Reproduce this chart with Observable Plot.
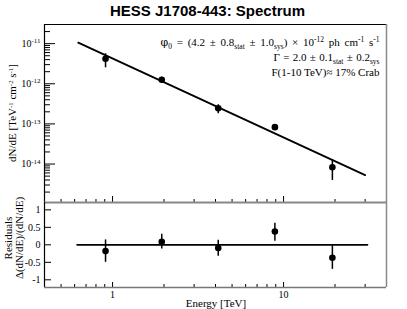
<!DOCTYPE html>
<html><head><meta charset="utf-8">
<script src="https://cdn.jsdelivr.net/npm/d3@7"></script>
<script src="https://cdn.jsdelivr.net/npm/@observablehq/plot@0.6"></script>
<style>
html,body{margin:0;padding:0;background:#fff;}
#wrap{position:relative;width:407px;height:309px;overflow:hidden;background:#fff;}
.serif{font-family:"Liberation Serif","Times New Roman",serif;color:#000;}
sub,sup{font-size:0.62em;line-height:0;position:relative;vertical-align:baseline;}
sub{top:0.3em;} sup{top:-0.5em;}
#title{position:absolute;left:4px;width:407px;top:2px;text-align:center;font:bold 15px "Liberation Sans",Arial,sans-serif;color:#000;}
.rot{position:absolute;transform:translate(-50%,-50%) rotate(-90deg);white-space:nowrap;font-size:11px;line-height:12px;}
#xlabel{position:absolute;left:216px;top:303px;transform:translate(-50%,-50%);font-size:11px;white-space:nowrap;}
#wrap svg{position:absolute;left:0;}
</style></head>
<body>
<div id="wrap">
  <div id="title">HESS J1708-443: Spectrum</div>
</div>
<script>
// ---- data ----
const energy   = [0.91, 1.94, 4.15, 8.9, 19.3];          // TeV
const flux     = [4.2e-12, 1.26e-12, 2.45e-13, 8.3e-14, 8.3e-15];
const fluxLo   = [2.5e-12, 1.04e-12, 1.78e-13, 7.4e-14, 3.9e-15];
const fluxHi   = [5.6e-12, 1.46e-12, 3.0e-13, 9.2e-14, 1.27e-14];
const resid    = [-0.18, 0.09, -0.09, 0.38, -0.37];
const residLo  = [-0.5, -0.12, -0.33, 0.10, -0.70];
const residHi  = [0.14, 0.30, 0.13, 0.62, -0.02];
const fitE     = [0.63, 30];
const fitFlux  = [1.06e-11, 5.3e-15];
const zeroE    = [0.62, 31];
const zeroRes  = [0, 0];
// axes
const xDomain  = [0.4, 40];
const yDomain  = [1.1e-15, 3.0e-11];
const resDomain = [-1.22, 1.21];
const xMajor   = [1, 10];
const xMinor   = [0.5, 0.6, 0.7, 0.8, 0.9, 2, 3, 4, 5, 6, 7, 8, 9, 20, 30];
const yMajor   = [1e-14, 1e-13, 1e-12, 1e-11];
const yDecades = [1e-15, 1e-14, 1e-13, 1e-12, 1e-11];
const mantissas = [2, 3, 4, 5, 6, 7, 8, 9];
const resMajor = [-1, -0.5, 0, 0.5, 1];
// legend lines: [text, kind] with kind "n" normal, "b" subscript, "p" superscript
const legendLines = [
  [["φ","n"],["0","b"],[" = (4.2 ± 0.8","n"],["stat","b"],[" ± 1.0","n"],["sys","b"],[") × 10","n"],["-12","p"],[" ph cm","n"],["-1","p"],[" s","n"],["-1","p"]],
  [["Γ = 2.0 ± 0.1","n"],["stat","b"],[" ± 0.2","n"],["sys","b"]],
  [["F(1-10 TeV)≈ 17% Crab","n"]]
];
const legendWordSpacing = [2.0, 0.6, 0];

const points = energy.map((e, i) => ({e, f: flux[i], lo: fluxLo[i], hi: fluxHi[i]}));
const resPts = energy.map((e, i) => ({e, r: resid[i], lo: residLo[i], hi: residHi[i]}));
const fit = fitE.map((e, i) => ({e, f: fitFlux[i]}));
const zero = zeroE.map((e, i) => ({e, r: zeroRes[i]}));
const yMinor = yDecades.flatMap(d => mantissas.map(m => m * d)).filter(v => v > yDomain[0] && v < yDomain[1]);

const W = 407, mL = 44, mR = 21;
const pw = W - mL - mR;
const H1 = 204, mT1 = 24, mB1 = 2, ph1 = H1 - mT1 - mB1;
const H2 = 109, mT2 = 2, mB2 = 22, ph2 = H2 - mT2 - mB2;
const font = {background: "transparent", fontFamily: "Liberation Serif, Times New Roman, serif", fontSize: "10px", color: "#000", overflow: "visible"};

const upper = Plot.plot({
  width: W, height: H1, marginTop: mT1, marginBottom: mB1, marginLeft: mL, marginRight: mR,
  style: font,
  x: {type: "log", domain: xDomain, axis: null},
  y: {type: "log", domain: yDomain, ticks: yMajor, tickSize: 0, tickPadding: 4,
      tickFormat: d => "10^" + Math.round(Math.log10(d)), label: null},
  marks: [
    Plot.tickY(yMinor, {y: d => d, insetRight: pw - 6, stroke: "#000"}),
    Plot.tickY(yMajor, {y: d => d, insetRight: pw - 11, stroke: "#000"}),
    Plot.tickX(xMinor, {x: d => d, insetTop: ph1 - 3, stroke: "#000"}),
    Plot.tickX(xMajor, {x: d => d, insetTop: ph1 - 6, stroke: "#000"}),
    Plot.ruleY([yDomain[1]], {stroke: "#000", strokeWidth: 1.2}),
    Plot.ruleX([xDomain[0]], {stroke: "#000", strokeWidth: 1.2}),
    Plot.ruleX([xDomain[1]], {stroke: "#888", strokeWidth: 1.5}),
    Plot.ruleY([yDomain[0]], {stroke: "#888", strokeWidth: 2}),
    Plot.line(fit, {x: "e", y: "f", stroke: "#000", strokeWidth: 1.8}),
    Plot.ruleX(points, {x: "e", y1: "lo", y2: "hi", stroke: "#000", strokeWidth: 1.5}),
    Plot.dot(points, {x: "e", y: "f", r: 3.3, fill: "#000", stroke: null}),
    Plot.text(legendLines, {text: (d, i) => "L" + i, frameAnchor: "top-right", dx: -7,
      fill: "#000", fontSize: 11, textAnchor: "end"})
  ]
});
upper.style.top = "0px";

const lower = Plot.plot({
  width: W, height: H2, marginTop: mT2, marginBottom: mB2, marginLeft: mL, marginRight: mR,
  style: font,
  x: {type: "log", domain: xDomain, ticks: xMajor, tickSize: 0, tickPadding: 3, tickFormat: d => String(d), label: null},
  y: {domain: resDomain, ticks: resMajor, tickSize: 0, tickPadding: 4, tickFormat: d => String(d), label: null},
  marks: [
    Plot.tickY(resMajor, {y: d => d, insetRight: pw - 7, stroke: "#000"}),
    Plot.tickX(xMinor, {x: d => d, insetTop: ph2 - 3, stroke: "#000"}),
    Plot.tickX(xMajor, {x: d => d, insetTop: ph2 - 5, stroke: "#000"}),
    Plot.ruleX([xDomain[0]], {stroke: "#000", strokeWidth: 1.2}),
    Plot.ruleX([xDomain[1]], {stroke: "#888", strokeWidth: 1.5}),
    Plot.ruleY([resDomain[0]], {stroke: "#777", strokeWidth: 1.5}),
    Plot.line(zero, {x: "e", y: "r", stroke: "#000", strokeWidth: 1.6}),
    Plot.ruleX(resPts, {x: "e", y1: "lo", y2: "hi", stroke: "#000", strokeWidth: 1.5}),
    Plot.dot(resPts, {x: "e", y: "r", r: 3.3, fill: "#000", stroke: null})
  ]
});
lower.style.top = (mT1 + ph1 - mT2) + "px";

const wrap = document.getElementById("wrap");
wrap.appendChild(upper);
wrap.appendChild(lower);

// superscript tick labels 10^n
d3.select(upper).selectAll("text").each(function() {
  const t = this.textContent;
  if (t.indexOf("^") > 0) {
    const [b, e] = t.split("^");
    const sel = d3.select(this);
    sel.text(null);
    sel.append("tspan").text(b);
    sel.append("tspan").attr("dy", "-0.5em").attr("font-size", "7px").text(e);
  }
});

// legend: rich text with sub/superscripts, one line per text element
const lineGap = 15, firstBase = 14;
d3.select(upper).selectAll("text").each(function() {
  const t = this.textContent;
  const m = /^L(\d)$/.exec(t);
  if (!m) return;
  const i = +m[1];
  const sel = d3.select(this);
  sel.text(null).attr("dy", null).style("word-spacing", legendWordSpacing[i] + "px").attr("opacity", 0.999);
  sel.attr("transform", (sel.attr("transform") || "") + ` translate(0,${firstBase + i * lineGap})`);
  let shift = 0;
  for (const [s, k] of legendLines[i]) {
    const target = k === "b" ? 2.5 : k === "p" ? -4 : 0;
    sel.append("tspan").attr("dy", target - shift).attr("font-size", k === "n" ? null : "7.5px")
      .attr("font-family", s === "φ" ? "DejaVu Serif, serif" : null).attr("fill", "#000").text(s);
    shift = target;
  }
});

// text annotations
const add = (html, cls, css) => {
  const d = document.createElement("div");
  d.className = cls;
  d.innerHTML = html;
  Object.assign(d.style, css || {});
  wrap.appendChild(d);
  return d;
};
add('dN/dE [TeV<sup>-1</sup> cm<sup>-2</sup> s<sup>-1</sup>]', "serif rot", {left: "12px", top: "113px"});
add('Residuals', "serif rot", {left: "8px", top: "238px"});
add('Δ(dN/dE)/(dN/dE)', "serif rot", {left: "19px", top: "238px"});
add('Energy [TeV]', "serif", {});
wrap.lastChild.id = "xlabel";
</script>
</body></html>
